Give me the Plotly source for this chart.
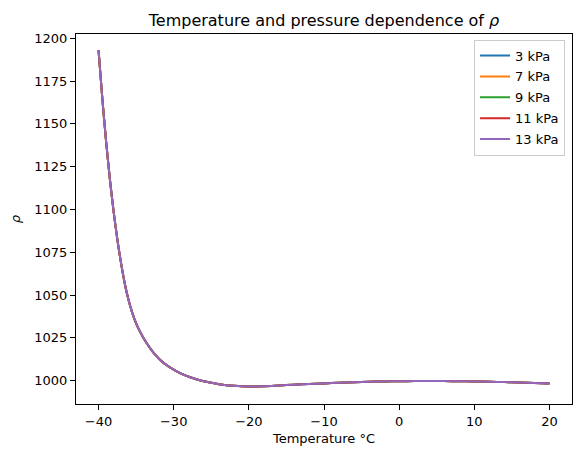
import plotly.graph_objects as go

# temperatures in degC and density
temperature = [-40, -39.5, -39, -38.5, -38, -37.5, -37, -36.5, -36, -35.5, -35,
               -34.5, -34, -33.5, -33, -32.5, -32, -31.5, -31, -30.5, -30,
               -29, -28, -27, -26, -25, -24, -23, -22, -21, -20, -19, -18,
               -16, -14, -12, -10, -8, -6, -4, -2, 0, 2, 4, 6, 8, 10, 12,
               14, 16, 18, 20]
rho_values = [1193.0, 1165.0, 1140.0, 1118.0, 1099.0, 1082.5, 1068.5, 1056.5,
              1047.0, 1039.5, 1033.5, 1028.8, 1024.8, 1021.3, 1018.2, 1015.4,
              1013.0, 1011.0, 1009.3, 1007.8, 1006.5, 1004.1, 1002.3, 1000.9,
              999.7, 998.8, 998.0, 997.4, 997.0, 996.7, 996.6, 996.6, 996.7,
              997.2, 997.7, 998.1, 998.4, 998.8, 999.1, 999.4, 999.6, 999.7,
              999.8, 999.8, 999.8, 999.7, 999.6, 999.4, 999.2, 998.9, 998.7,
              998.4]
pressures = ["3 kPa", "7 kPa", "9 kPa", "11 kPa", "13 kPa"]
colors = ["#1f77b4", "#ff7f0e", "#2ca02c", "#d62728", "#9467bd"]

fig = go.Figure()
for p, c in zip(pressures, colors):
    fig.add_trace(go.Scatter(x=temperature, y=rho_values, mode="lines", name=p,
                             legendgroup=p,
                             line=dict(color=c, width=2, shape="spline", smoothing=0.6)))

axis_style = dict(showline=True, linecolor="black", linewidth=1, mirror=True,
                  ticks="outside", ticklen=5, tickcolor="black", showgrid=False,
                  zeroline=False, automargin=False,
                  tickfont=dict(size=13, color="black"))

# the page body adds 8px on the left and top, so the figure is a bit smaller
fig.update_layout(
    width=573, height=449,
    margin=dict(l=68, r=9, t=26, b=53),
    paper_bgcolor="white", plot_bgcolor="white",
    font=dict(family="DejaVu Sans", size=13, color="black"),
    title=dict(text="Temperature and pressure dependence of <i>ρ</i>",
               x=316 / 573, xanchor="center",
               y=1 - 12 / 449, yanchor="middle", yref="container",
               font=dict(size=16)),
    legend=dict(x=0.986, xanchor="right", y=0.985, yanchor="top",
                bordercolor="#cccccc", borderwidth=1, bgcolor="white",
                font=dict(size=13), tracegroupgap=1),
    showlegend=True,
)
fig.update_xaxes(range=[-43, 23], tickvals=[-40, -30, -20, -10, 0, 10, 20],
                 ticktext=["−40", "−30", "−20", "−10", "0", "10", "20"],
                 title=dict(text="Temperature °C", standoff=6, font=dict(size=13)),
                 **axis_style)
fig.update_yaxes(range=[986.4, 1202.5],
                 tickvals=[1000, 1025, 1050, 1075, 1100, 1125, 1150, 1175, 1200],
                 title=dict(text="<i>ρ</i>", standoff=14, font=dict(size=13)),
                 **axis_style)

fig.write_html("out.html")
